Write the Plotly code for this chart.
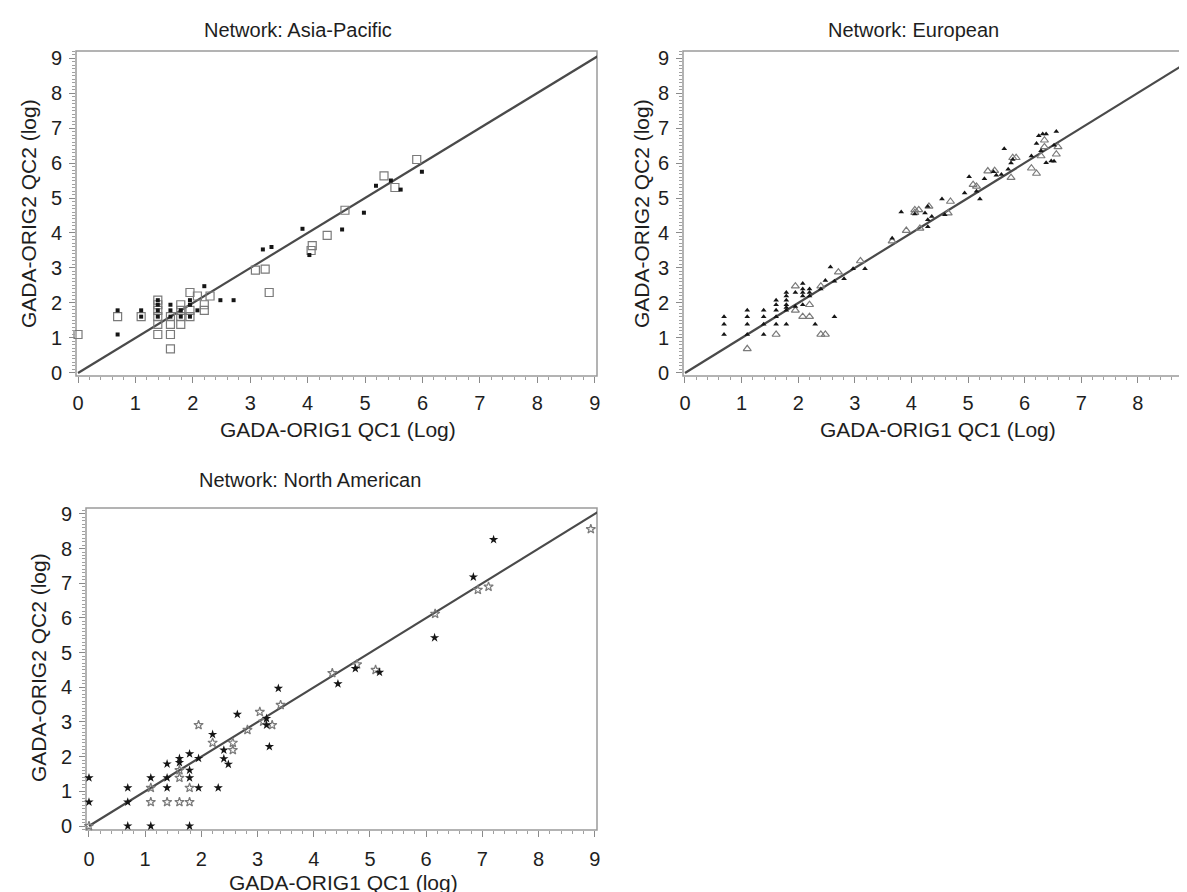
import plotly.graph_objects as go

# ---------------- data (natural-log values) ----------------
line_ends = [0, 10]

# Asia-Pacific
ap_open_x = [0.00, 0.69, 1.10, 1.39, 1.39, 1.39, 1.39, 1.39, 1.39, 1.61, 1.61, 1.61, 1.61,
             1.79, 1.79, 1.79, 1.79, 1.95, 1.95, 1.95, 2.08, 2.20, 2.20, 2.30,
             3.09, 3.26, 3.33, 4.08, 4.06, 4.34, 4.65, 5.33, 5.52, 5.90]
ap_open_y = [1.10, 1.61, 1.61, 2.08, 1.95, 1.79, 1.61, 1.39, 1.10, 1.61, 1.39, 1.10, 0.69,
             1.95, 1.79, 1.61, 1.39, 2.30, 1.79, 1.61, 2.20, 1.95, 1.79, 2.20,
             2.94, 2.97, 2.30, 3.64, 3.50, 3.93, 4.65, 5.63, 5.30, 6.10]
ap_fill_x = [0.69, 0.69, 1.10, 1.10, 1.39, 1.39, 1.39, 1.39, 1.61, 1.61, 1.61, 1.79, 1.79,
             1.95, 1.95, 1.95, 2.08, 2.20, 2.48, 2.71, 3.22, 3.37, 3.91, 4.03, 4.60, 4.98,
             5.19, 5.45, 5.62, 5.99]
ap_fill_y = [1.79, 1.10, 1.79, 1.61, 2.08, 1.95, 1.79, 1.61, 1.95, 1.79, 1.61, 1.79, 1.61,
             2.08, 1.95, 1.61, 1.79, 2.48, 2.08, 2.08, 3.53, 3.60, 4.12, 3.37, 4.10, 4.58,
             5.35, 5.50, 5.24, 5.75]

# European
eu_fill_x = [0.69, 0.69, 0.69, 1.10, 1.10, 1.10, 1.10, 1.39, 1.39, 1.39, 1.39,
             1.61, 1.61, 1.61, 1.61, 1.61, 1.79, 1.79, 1.79, 1.79, 1.79, 1.79, 1.79,
             1.95, 1.95, 2.08, 2.08, 2.08, 2.08, 2.08, 2.20, 2.20, 2.20, 2.30, 2.40,
             2.48, 2.57, 2.64, 2.64, 2.81, 2.97, 3.18, 3.66, 3.82, 4.06, 4.24, 4.29,
             4.29, 4.29, 4.36, 4.54, 4.59, 4.94, 5.02, 5.15, 5.21, 5.29, 5.45, 5.50,
             5.59, 5.64, 5.71, 5.76, 5.79, 6.12, 6.21, 6.25, 6.29, 6.32, 6.38, 6.38,
             6.47, 6.52, 6.52, 6.56]
eu_fill_y = [1.61, 1.39, 1.10, 1.79, 1.61, 1.39, 1.10, 1.79, 1.61, 1.39, 1.10,
             2.08, 1.95, 1.79, 1.61, 1.39, 2.30, 2.20, 2.08, 1.95, 1.87, 1.79, 1.39,
             1.90, 2.30, 2.56, 2.40, 2.30, 2.20, 1.95, 2.40, 2.30, 2.20, 1.39, 2.40,
             2.64, 3.03, 1.61, 2.62, 2.69, 2.98, 2.98, 3.85, 4.60, 4.54, 4.57, 4.76,
             4.38, 4.18, 4.47, 4.97, 4.52, 5.14, 5.61, 5.19, 4.97, 5.55, 5.75, 5.65,
             5.67, 6.41, 5.82, 6.00, 6.10, 6.20, 6.56, 6.78, 6.35, 6.83, 6.01, 6.83,
             6.06, 6.51, 6.05, 6.90]
eu_open_x = [1.10, 1.61, 1.95, 1.95, 2.20, 2.08, 2.20, 2.40, 2.48, 2.40, 2.71, 3.10,
             3.66, 3.91, 4.06, 4.13, 4.06, 4.15, 4.31, 4.65, 4.69, 5.09, 5.15, 5.35,
             5.47, 5.76, 5.79, 5.85, 6.12, 6.21, 6.29, 6.35, 6.35, 6.56, 6.59]
eu_open_y = [0.69, 1.10, 2.48, 1.79, 1.95, 1.61, 1.61, 1.10, 1.10, 2.48, 2.88, 3.20,
             3.77, 4.07, 4.66, 4.66, 4.58, 4.13, 4.76, 4.57, 4.90, 5.38, 5.33, 5.77,
             5.78, 5.58, 6.15, 6.15, 5.85, 5.70, 6.20, 6.65, 6.46, 6.25, 6.46]

# North American
na_fill_x = [0.00, 0.00, 0.69, 0.69, 0.69, 1.10, 1.10, 1.39, 1.39, 1.39, 1.61, 1.61,
             1.79, 1.79, 1.79, 1.79, 1.95, 1.95, 2.20, 2.30, 2.40, 2.40, 2.48, 2.64,
             3.16, 3.16, 3.21, 3.37, 4.43, 4.74, 5.17, 6.15, 6.84, 7.20]
na_fill_y = [1.39, 0.69, 1.10, 0.69, 0.00, 1.39, 0.00, 1.79, 1.39, 1.10, 1.95, 1.83,
             2.08, 1.61, 1.39, 0.00, 1.95, 1.10, 2.64, 1.10, 2.19, 1.94, 1.78, 3.22,
             3.10, 2.91, 2.29, 3.97, 4.10, 4.54, 4.43, 5.43, 7.18, 8.26]
na_open_x = [0.00, 1.10, 1.10, 1.39, 1.61, 1.61, 1.61, 1.79, 1.79, 1.95, 2.20, 2.56,
             2.56, 2.82, 3.04, 3.10, 3.26, 3.41, 4.33, 4.77, 5.10, 6.16, 6.92, 7.11, 8.93]
na_open_y = [0.00, 1.10, 0.69, 0.69, 1.39, 1.61, 0.69, 1.10, 0.69, 2.91, 2.40, 2.40,
             2.19, 2.77, 3.29, 3.01, 2.91, 3.49, 4.41, 4.66, 4.50, 6.12, 6.81, 6.90, 8.56]

tick_vals = list(range(10))
tick_text = [str(v) for v in tick_vals]

panel_titles = ["Network: Asia-Pacific", "Network: European", "Network: North American"]
x_titles = ["GADA-ORIG1 QC1 (Log)", "GADA-ORIG1 QC1 (Log)", "GADA-ORIG1 QC1 (log)"]
y_title = "GADA-ORIG2 QC2 (log)"

# ---------------- figure ----------------
W, H = 1187, 892
FONT = "Liberation Sans, Arial, Helvetica, sans-serif"
TXT = "#1e1e1e"
OPEN_C = "#7a7a7a"
FILL_C = "#151515"
LINE_C = "#4a4a4a"
TICK_FS = 20
AXT_FS = 21
TITLE_FS = 20

fig = go.Figure()

def add_panel(xa, ya, open_x, open_y, fill_x, fill_y, open_sym, fill_sym, open_size, fill_size):
    fig.add_trace(go.Scatter(x=line_ends, y=line_ends, mode="lines",
                             line=dict(color=LINE_C, width=2.2), xaxis=xa, yaxis=ya,
                             hoverinfo="skip", showlegend=False))
    fig.add_trace(go.Scatter(x=open_x, y=open_y, mode="markers", xaxis=xa, yaxis=ya,
                             marker=dict(symbol=open_sym, size=open_size, color=OPEN_C,
                                         line=dict(width=1.2, color=OPEN_C)),
                             showlegend=False, cliponaxis=False))
    fig.add_trace(go.Scatter(x=fill_x, y=fill_y, mode="markers", xaxis=xa, yaxis=ya,
                             marker=dict(symbol=fill_sym, size=fill_size, color=FILL_C,
                                         line=dict(width=0)),
                             showlegend=False, cliponaxis=False))

add_panel("x", "y", ap_open_x, ap_open_y, ap_fill_x, ap_fill_y, "square-open", "square", 8, 4)
add_panel("x2", "y2", eu_open_x, eu_open_y, eu_fill_x, eu_fill_y, "triangle-up-open", "triangle-up", 7, 5)
add_panel("x3", "y3", na_open_x, na_open_y, na_fill_x, na_fill_y, "star-open", "star", 7, 7)

def px_x(p):
    return p / W

def px_y(p):
    return 1 - p / H

common_axis = dict(
    tickmode="array", tickvals=tick_vals, ticktext=tick_text,
    ticks="outside", ticklen=6, tickwidth=1, tickcolor="#8a8a8a",
    showgrid=False, zeroline=False, showline=False,
    tickfont=dict(family=FONT, size=TICK_FS, color=TXT),
    fixedrange=True, automargin=False, ticklabeloverflow="allow",
)
minor_base = dict(ticks="outside", ticklen=3, tickwidth=1, tickcolor="#a0a0a0")

# panel geometry (pixels): frame left, right, top, bottom
p1 = dict(l=68, r=589, t=43, b=368)
p2 = dict(l=675, r=1187, t=43, b=368)
p3 = dict(l=78, r=589, t=500, b=822)

layout_axes = {}
for i, (p, xr, yr, xstand) in enumerate([
        (p1, [-0.035, 9.04], [-0.086, 9.2], 3),
        (p2, [-0.035, 9.01], [-0.086, 9.2], 3),
        (p3, [-0.053, 9.04], [-0.115, 9.17], 5)], start=1):
    sx = "" if i == 1 else str(i)
    layout_axes["xaxis" + sx] = dict(common_axis, domain=[px_x(p["l"]), px_x(p["r"])],
                                     range=xr, anchor="y" + sx, ticklabelstandoff=xstand,
                                     minor=dict(minor_base, dtick=0.2))
    layout_axes["yaxis" + sx] = dict(common_axis, domain=[px_y(p["b"]), px_y(p["t"])],
                                     range=yr, anchor="x" + sx, ticklabelstandoff=3,
                                     minor=dict(minor_base, dtick=0.1))

fig.update_layout(width=W, height=H, margin=dict(l=0, r=0, t=0, b=0),
                  paper_bgcolor="white", plot_bgcolor="white", showlegend=False,
                  **layout_axes)

# frames
for sx, x1 in [("", 1.0), ("2", 1.05), ("3", 1.0)]:
    fig.add_shape(type="rect", xref=("x" + sx + " domain"), yref=("y" + sx + " domain"),
                  x0=0, x1=x1, y0=0, y1=1, line=dict(color="#9a9a9a", width=1.5),
                  layer="below")

# texts
def note(text, x, y, angle=0, size=AXT_FS):
    fig.add_annotation(text=text, x=px_x(x), y=px_y(y), xref="paper", yref="paper",
                       showarrow=False, textangle=angle, xanchor="center", yanchor="middle",
                       font=dict(family=FONT, size=size, color=TXT))

note(panel_titles[0], 290, 22, size=TITLE_FS)
note(panel_titles[1], 905, 22, size=TITLE_FS)
note(panel_titles[2], 302, 472, size=TITLE_FS)
note(x_titles[0], 330, 421)
note(x_titles[1], 930, 421)
note(x_titles[2], 335, 874)
note(y_title, 20, 206, angle=-90)
note(y_title, 633, 206, angle=-90)
note(y_title, 30, 660, angle=-90)

fig.write_html("out.html")
